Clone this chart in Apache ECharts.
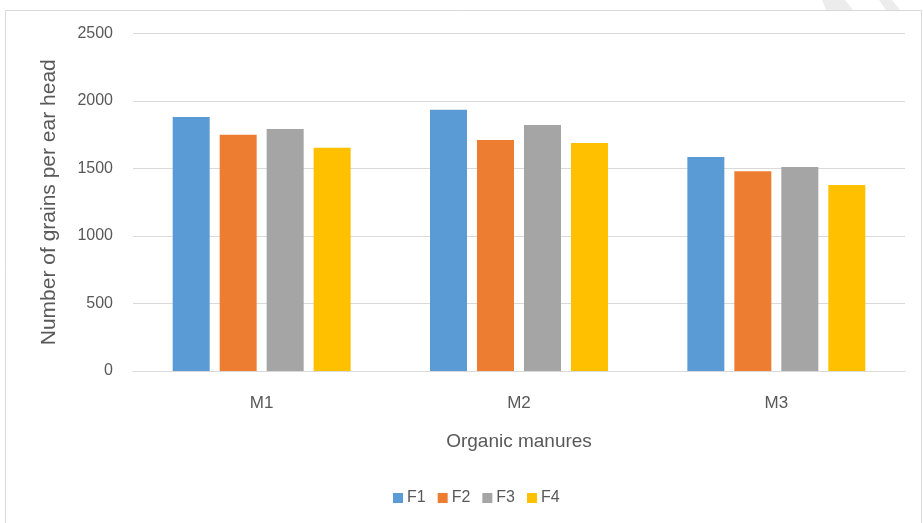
<!DOCTYPE html>
<html><head><meta charset="utf-8">
<script src="https://cdn.jsdelivr.net/npm/echarts@6/dist/echarts.min.js"></script>
<style>html,body{margin:0;padding:0;background:#fff}#c{width:923px;height:523px}</style>
</head><body><div id="c"></div>
<script>
const categories = ['M1', 'M2', 'M3'];
const seriesNames = ['F1', 'F2', 'F3', 'F4'];
const F1 = [1882, 1935, 1585];
const F2 = [1750, 1712, 1480];
const F3 = [1792, 1822, 1512];
const F4 = [1654, 1688, 1378];
const colors = ['#5B9BD5', '#ED7D31', '#A5A5A5', '#FFC000'];
const values = [F1, F2, F3, F4];

const chart = echarts.init(document.getElementById('c'), null, {renderer: 'canvas'});
const font = 'Liberation Sans, Arial, sans-serif';
chart.setOption({
  animation: false,
  color: colors,
  graphic: [
    {type: 'rect', left: 5, top: 10, z: -10,
     shape: {width: 916, height: 530},
     style: {fill: '#fff', stroke: '#d9d9d9', lineWidth: 1}},
    {type: 'polygon', z: -5,
     shape: {points: [[822, 0], [845, 0], [853, 10], [826, 10]]},
     style: {fill: '#ececec'}},
    {type: 'polygon', z: -5,
     shape: {points: [[879, 0], [892, 0], [900, 10], [886, 10]]},
     style: {fill: '#ececec'}}
  ],
  grid: {left: 133, right: 18, top: 33.5, bottom: 152},
  legend: {
    top: 485, left: 388, itemWidth: 10, itemHeight: 10, itemGap: 12,
    icon: 'rect',
    textStyle: {color: '#595959', fontSize: 16, fontFamily: font, padding: [0, 0, 0, -1]},
    data: seriesNames
  },
  xAxis: {
    type: 'category', data: categories,
    name: 'Organic manures', nameLocation: 'middle', nameGap: 61,
    nameTextStyle: {color: '#595959', fontSize: 19, fontFamily: font},
    axisLine: {lineStyle: {color: '#d9d9d9'}},
    axisTick: {show: false},
    axisLabel: {color: '#595959', fontSize: 17, fontFamily: font, margin: 24}
  },
  yAxis: {
    type: 'value', min: 0, max: 2500, interval: 500,
    name: 'Number of grains per ear head', nameLocation: 'middle', nameGap: 73,
    nameTextStyle: {color: '#595959', fontSize: 21, fontFamily: font},
    axisLine: {show: false}, axisTick: {show: false},
    splitLine: {lineStyle: {color: '#d9d9d9', width: 1}},
    axisLabel: {color: '#595959', fontSize: 16, fontFamily: font, margin: 20,
                formatter: v => String(v)}
  },
  series: seriesNames.map((n, i) => ({
    name: n, type: 'bar', data: values[i],
    barWidth: 37, barGap: '27%'
  }))
});
</script></body></html>
